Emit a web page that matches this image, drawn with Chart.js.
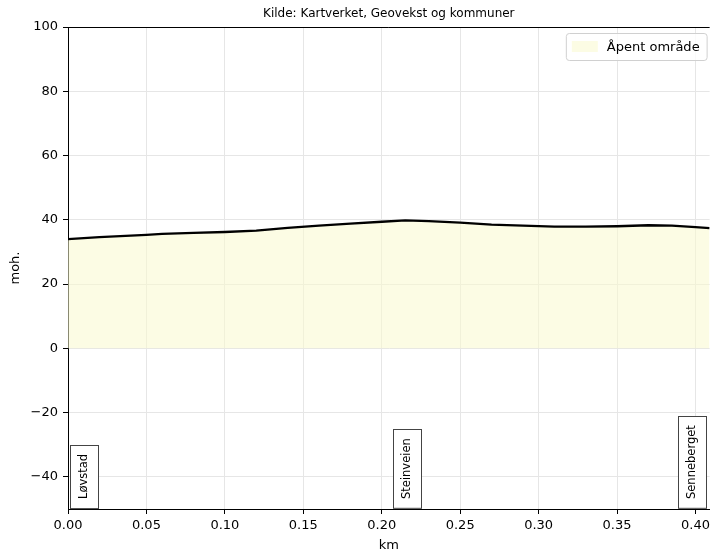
<!DOCTYPE html>
<html>
<head>
<meta charset="utf-8">
<script src="https://cdn.jsdelivr.net/npm/chart.js@4"></script>
<style>
  html, body { margin: 0; padding: 0; background: #fff; }
  canvas { display: block; }
</style>
</head>
<body>
<canvas id="profileChart" width="714" height="553"></canvas>
<script>
// elevation profile
const distKm = [0, 0.02, 0.04, 0.05, 0.06, 0.08, 0.10, 0.12, 0.14, 0.16, 0.18, 0.20, 0.215, 0.23, 0.25, 0.27, 0.29, 0.31, 0.33, 0.35, 0.37, 0.385, 0.40, 0.409];
const elevM = [34.0, 34.6, 35.1, 35.3, 35.6, 35.9, 36.2, 36.6, 37.5, 38.2, 38.8, 39.4, 39.8, 39.6, 39.1, 38.5, 38.2, 37.9, 37.9, 38.0, 38.3, 38.2, 37.7, 37.4];

// places along the route
const placeNames = ['Løvstad', 'Steinveien', 'Senneberget'];
const placeKm = [0.0104, 0.2163, 0.398];

const xTicks = [0, 0.05, 0.10, 0.15, 0.20, 0.25, 0.30, 0.35, 0.40];
const yTicks = [-40, -20, 0, 20, 40, 60, 80, 100];

const titleText = 'Kilde: Kartverket, Geovekst og kommuner';
const areaLabel = 'Åpent område';

const FONT = "'DejaVu Sans', sans-serif";
const fillColor = 'rgba(250, 250, 205, 0.55)';

const points = distKm.map((d, i) => ({ x: d, y: elevM[i] }));

// title centred over the axes, plus top spine, legend box and place labels
const decorPlugin = {
  id: 'decor',
  afterDraw(chart) {
    const ctx = chart.ctx;
    const a = chart.chartArea;
    const xs = chart.scales.x;

    ctx.save();
    // top spine
    ctx.strokeStyle = '#000';
    ctx.lineWidth = 1;
    ctx.beginPath();
    ctx.moveTo(a.left, a.top + 0.5);
    ctx.lineTo(a.right, a.top + 0.5);
    ctx.stroke();

    // title
    ctx.fillStyle = '#000';
    ctx.font = '12px ' + FONT;
    ctx.textAlign = 'center';
    ctx.textBaseline = 'middle';
    ctx.fillText(titleText, (a.left + a.right) / 2, 14);

    // legend
    ctx.font = '13px ' + FONT;
    const tw = ctx.measureText(areaLabel).width;
    const boxW = 6 + 26 + 9 + tw + 7;
    const boxH = 27;
    const bx = a.right - 3 - boxW;
    const by = a.top + 6;
    ctx.beginPath();
    ctx.roundRect(bx + 0.5, by + 0.5, boxW, boxH, 3);
    ctx.fillStyle = 'rgba(255,255,255,0.8)';
    ctx.fill();
    ctx.strokeStyle = '#d0d0d0';
    ctx.stroke();
    ctx.fillStyle = fillColor;
    ctx.fillRect(bx + 6, by + 8, 26, 11);
    ctx.fillStyle = '#000';
    ctx.textAlign = 'left';
    ctx.fillText(areaLabel, bx + 6 + 26 + 9, by + boxH / 2 + 1);

    // place labels, rotated in boxes at the bottom
    ctx.font = '11.5px ' + FONT;
    placeNames.forEach((name, i) => {
      const px = xs.getPixelForValue(placeKm[i]);
      const w = ctx.measureText(name).width;
      const h = w + 18;
      const bw = 28;
      const bottom = a.bottom - 1;
      ctx.fillStyle = '#fff';
      ctx.fillRect(px - bw / 2, bottom - h, bw, h);
      ctx.strokeStyle = '#444';
      ctx.strokeRect(Math.round(px - bw / 2) + 0.5, Math.round(bottom - h) + 0.5, bw, h);
      ctx.save();
      ctx.translate(px, bottom - h / 2);
      ctx.rotate(-Math.PI / 2);
      ctx.fillStyle = '#000';
      ctx.textAlign = 'center';
      ctx.textBaseline = 'middle';
      ctx.fillText(name, 0, 0);
      ctx.restore();
    });
    ctx.restore();
  }
};

const fmtY = v => (v < 0 ? '\u2212' + Math.abs(v) : String(v));

new Chart(document.getElementById('profileChart').getContext('2d'), {
  type: 'line',
  data: {
    datasets: [
      {
        label: areaLabel,
        data: points,
        borderWidth: 0,
        pointRadius: 0,
        backgroundColor: fillColor,
        fill: 'origin',
        tension: 0,
        order: 2
      },
      {
        label: 'profil',
        data: points,
        borderColor: '#000',
        borderWidth: 2.3,
        pointRadius: 0,
        fill: false,
        tension: 0,
        order: 1
      }
    ]
  },
  options: {
    responsive: false,
    animation: false,
    layout: { padding: { top: 27, right: 1, left: 0, bottom: 0 } },
    plugins: {
      legend: { display: false },
      title: { display: false },
      tooltip: { enabled: false }
    },
    scales: {
      x: {
        type: 'linear',
        min: 0,
        max: distKm[distKm.length - 1],
        afterBuildTicks: s => { s.ticks = xTicks.map(v => ({ value: v })); },
        afterFit: s => { s.height = 44; },
        ticks: {
          callback: v => v.toFixed(2),
          font: { family: FONT, size: 13 },
          color: '#000',
          padding: 4,
          maxRotation: 0,
          autoSkip: false
        },
        grid: { color: '#e6e6e6', tickColor: '#000', tickLength: 5 },
        border: { color: '#000', width: 1 },
        title: {
          display: true,
          text: 'km',
          font: { family: FONT, size: 13 },
          color: '#000',
          padding: { top: 0, bottom: 0 }
        }
      },
      y: {
        min: -50,
        max: 100,
        afterBuildTicks: s => { s.ticks = yTicks.map(v => ({ value: v })); },
        afterFit: s => { s.width = 68; },
        ticks: {
          callback: fmtY,
          font: { family: FONT, size: 13 },
          color: '#000',
          padding: 5
        },
        grid: { color: '#e6e6e6', tickColor: '#000', tickLength: 5 },
        border: { color: '#000', width: 1 },
        title: {
          display: true,
          text: 'moh.',
          font: { family: FONT, size: 13 },
          color: '#000',
          padding: { top: 7.5, bottom: 0 }
        }
      }
    }
  },
  plugins: [decorPlugin]
});
</script>
</body>
</html>
